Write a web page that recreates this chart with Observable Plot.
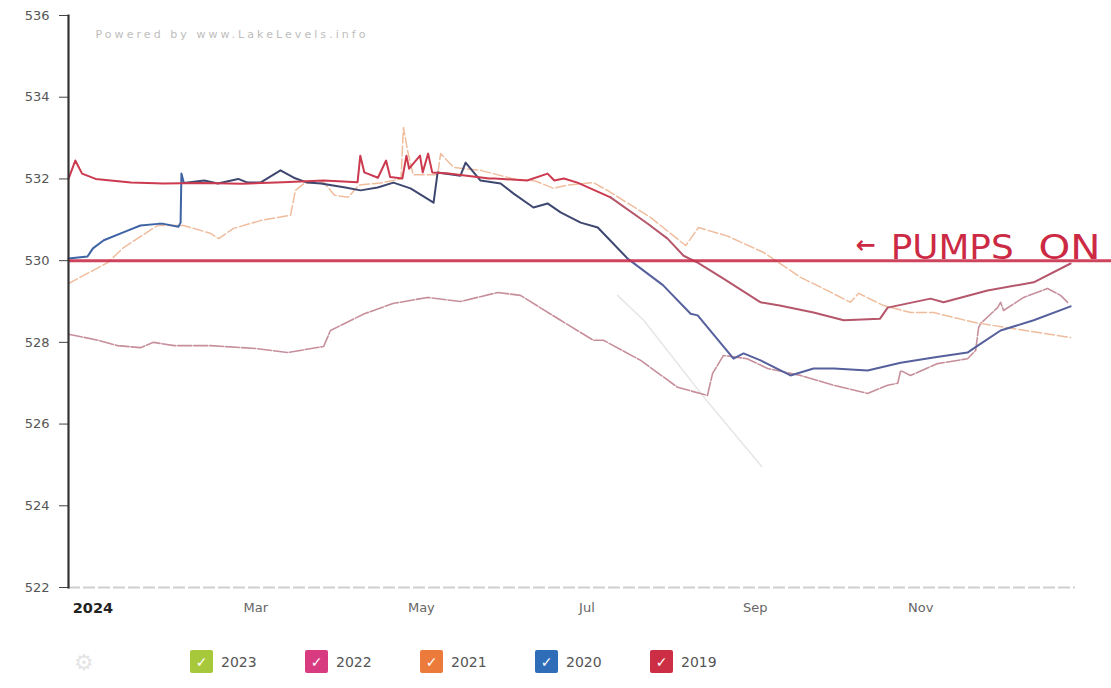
<!DOCTYPE html>
<html>
<head>
<meta charset="utf-8">
<script src="https://cdn.jsdelivr.net/npm/d3@7"></script>
<script src="https://cdn.jsdelivr.net/npm/@observablehq/plot@0.6"></script>
<style>
  body { margin: 0; background: #fff; font-family: "DejaVu Sans", sans-serif; }
  #wrap { position: relative; width: 1111px; }
  #legend { position: relative; height: 48px; }
  .item { position: absolute; top: 10px; display: flex; align-items: center; }
  .box { width: 23px; height: 23px; border-radius: 2px; color: #fff; font-size: 14px; font-weight: bold;
         display: flex; align-items: center; justify-content: center; }
  .lab { margin-left: 8px; font-size: 14px; color: #555; }
</style>
</head>
<body>
<div id="wrap"></div>
<script>
// ---- data (day of year 2024, Jan 1 = 0 ; lake level in ft) ----
const yTicks = [522, 524, 526, 528, 530, 532, 534, 536];
const monthDays = [0, 60, 121, 182, 244, 305];
const monthLabels = ["2024", "Mar", "May", "Jul", "Sep", "Nov"];

const y2019 = [[-9,532.0],[-6.5,532.45],[-4,532.13],[1,532.0],[14,531.91],[26,531.89],[40,531.9],[55,531.88],[70,531.92],[85,531.96],[97.5,531.92],[98.5,532.57],[100,532.16],[105,532.03],[108,532.45],[109.5,532.05],[114,532.01],[115.5,532.57],[116.5,532.25],[120.5,532.57],[121.5,532.16],[123.5,532.62],[125,532.16],[131,532.13],[146,532.01],[148,532.01],[160,531.96],[167.5,532.13],[170,531.96],[173.5,532.01],[178.5,531.91],[190.7,531.55],[204.3,530.91],[211.7,530.54],[217.6,530.12],[222.8,529.95],[232.3,529.56],[246,528.98],[253,528.9],[265.5,528.73],[276.6,528.54],[290,528.58],[292.8,528.85],[308.6,529.07],[313.4,528.98],[329.6,529.27],[346.6,529.47],[360.2,529.93]];

const y2020 = [[-9,530.05],[-2,530.1],[0,530.3],[4,530.5],[13,530.74],[17.5,530.86],[24,530.9],[26,530.9],[31.5,530.83],[32.3,530.93],[32.6,532.13],[33.5,531.9],[41,531.96],[46,531.89],[53.5,532.0],[57,531.91],[61.7,531.91],[69.1,532.21],[74,532.03],[79,531.91],[84,531.89],[93,531.79],[98.6,531.72],[104.9,531.79],[110.7,531.91],[117,531.77],[125.5,531.42],[127,532.16],[135.4,532.08],[137.3,532.4],[142.8,531.96],[150.2,531.89],[155,531.64],[162.3,531.3],[167.5,531.4],[172.3,531.18],[179.7,530.93],[186,530.81],[197,530.05],[210,529.4],[220.2,528.7],[222.8,528.66],[236,527.6],[239.7,527.73],[246,527.56],[257,527.19],[265.5,527.36],[273,527.36],[285.4,527.31],[297.6,527.5],[309.7,527.63],[322.2,527.75],[326,527.92],[334.4,528.29],[346.6,528.54],[360.2,528.88]];

const y2021 = [[-9,529.44],[5.4,529.95],[11.3,530.32],[23.8,530.86],[33.4,530.86],[43.3,530.67],[46.3,530.54],[51.8,530.79],[61.7,530.98],[72.8,531.11],[74.6,531.72],[78,531.9],[85,531.92],[89,531.6],[94,531.55],[98,531.85],[106,531.9],[113.5,532.0],[114.4,533.26],[115.9,532.7],[118,532.1],[127,532.1],[128.1,532.62],[132.9,532.28],[142.8,532.21],[155,532.0],[163,531.95],[169.7,531.77],[175,531.85],[184.4,531.91],[190,531.7],[205.4,531.06],[218.4,530.37],[223.1,530.81],[233.8,530.6],[247.1,530.2],[260.7,529.59],[268.1,529.35],[279.1,528.98],[282.1,529.2],[291.3,528.9],[301.2,528.73],[309.7,528.73],[324.5,528.49],[337,528.36],[360.2,528.12]];

const y2022 = [[-9,528.2],[2,528.05],[9.1,527.92],[17.5,527.87],[22.3,528.0],[30,527.92],[43.3,527.92],[60,527.85],[71.7,527.75],[85,527.9],[87.5,528.29],[100,528.7],[110.5,528.95],[123.3,529.1],[135.4,529.0],[149.1,529.22],[157.5,529.15],[172.3,528.54],[184.4,528.05],[188.1,528.05],[201.8,527.56],[215.4,526.9],[226.4,526.7],[228.3,527.24],[232.3,527.68],[241,527.6],[248.6,527.36],[260.7,527.19],[272.9,526.95],[285.4,526.75],[292.8,526.95],[296.5,527.0],[297.6,527.31],[301.2,527.19],[311.2,527.48],[322.2,527.6],[325.2,527.8],[326.3,528.36],[327,528.46],[333.3,528.85],[334.4,528.98],[335.5,528.78],[342.9,529.1],[351.7,529.32],[356.5,529.15],[359.1,528.98]];

const y2023 = [[193.3,529.15],[202.9,528.54],[226.4,526.55],[246.4,524.96]];

const legendYears = ["2023", "2022", "2021", "2020", "2019"];
const legendColors = ["#a8c83c", "#d93b80", "#ec7a3a", "#2f6db8", "#cc2f45"];

const pumpLevel = 530;
const pumpSpan = [-9, 376];
const noteArrow = [{label: "←", day: 281, level: 530.18}];
const noteWords = [
  {label: "PUMPS", day: 293.9, level: 530.05},
  {label: "ON", day: 348.4, level: 530.05}
];

const toRows = (arr) => arr.map(([d, v]) => ({d, v}));
const r2019 = toRows(y2019), r2020 = toRows(y2020);

const svg = Plot.plot({
  width: 1111,
  height: 640,
  marginLeft: 68,
  marginRight: 36,
  marginTop: 15,
  marginBottom: 53,
  style: {fontFamily: "DejaVu Sans, sans-serif", background: "#fff", overflow: "visible"},
  x: {domain: [-9, 362], axis: null},
  y: {domain: [522, 536], axis: null},
  marks: [
    Plot.ruleY([522], {stroke: "#cfcfcf", strokeWidth: 2, strokeDasharray: "12 3"}),
    Plot.axisY({ticks: yTicks, tickSize: 9, tickPadding: 10, fontSize: 13, stroke: "#444", fill: "#555", tickFormat: d => String(d)}),
    Plot.axisX({ticks: monthDays, tickSize: 0, tickPadding: 15, fontSize: 13, fill: "#666",
                tickFormat: d => monthLabels[monthDays.indexOf(d)]}),
    Plot.line(toRows(y2023), {x: "d", y: "v", stroke: "#e6e6e6", strokeWidth: 1.5}),
    Plot.line(toRows(y2022), {x: "d", y: "v", stroke: "#c68f9b", strokeWidth: 1.6, strokeDasharray: "14 2"}),
    Plot.line(toRows(y2021), {x: "d", y: "v", stroke: "#efbd9d", strokeWidth: 1.5, strokeDasharray: "10 3"}),
    Plot.line(r2020.filter(r => r.d <= 33.5), {x: "d", y: "v", stroke: "#3f64a4", strokeWidth: 2, strokeLinejoin: "round"}),
    Plot.line(r2020.filter(r => r.d >= 33.5 && r.d <= 197), {x: "d", y: "v", stroke: "#3e4770", strokeWidth: 2, strokeLinejoin: "round"}),
    Plot.line(r2020.filter(r => r.d >= 197), {x: "d", y: "v", stroke: "#55609c", strokeWidth: 2, strokeLinejoin: "round"}),
    Plot.line(r2019.filter(r => r.d <= 190.7), {x: "d", y: "v", stroke: "#cc3a4f", strokeWidth: 2, strokeLinejoin: "round"}),
    Plot.line(r2019.filter(r => r.d >= 190.7), {x: "d", y: "v", stroke: "#b5566b", strokeWidth: 2, strokeLinejoin: "round"}),
    Plot.ruleY([pumpLevel], {x1: pumpSpan[0], x2: pumpSpan[1], stroke: "#c8304a", strokeWidth: 3, strokeOpacity: 0.9}),
    Plot.text(noteArrow, {x: "day", y: "level", text: "label", fill: "#cc2a44", fontSize: 24, fontWeight: "bold",
                          textAnchor: "start", lineAnchor: "bottom"}),
    Plot.text(noteWords, {x: "day", y: "level", text: "label", fill: "#cc2a44", fontSize: 34,
                          textAnchor: "start", lineAnchor: "bottom"}),
    Plot.text(["Powered by www.LakeLevels.info"], {frameAnchor: "top-left", dx: 27, dy: 19, fill: "#bdbdbd", fontSize: 11, textAnchor: "start", lineAnchor: "middle"}),
    Plot.frame({anchor: "left", stroke: "#333", strokeWidth: 2.2})
  ]
});

// style tweaks on rendered text
d3.select(svg).selectAll("text").each(function() {
  const t = this.textContent;
  const s = d3.select(this);
  if (t === "2024") s.attr("font-weight", "bold").attr("fill", "#222").attr("font-size", 14.5);
  if (t === "PUMPS") s.attr("textLength", 123).attr("lengthAdjust", "spacingAndGlyphs");
  if (t === "ON") s.attr("textLength", 62).attr("lengthAdjust", "spacingAndGlyphs");
  if (t.startsWith("Powered")) s.attr("textLength", 270).attr("lengthAdjust", "spacing");
});

const wrap = document.getElementById("wrap");
wrap.appendChild(svg);

const legend = document.createElement("div");
legend.id = "legend";
const icon = document.createElement("div");
icon.className = "item";
icon.style.left = "74px";
icon.innerHTML = '<span style="font-size:22px;color:#e4e4e4">⚙</span>';
legend.appendChild(icon);
legendYears.forEach((yr, i) => {
  const it = document.createElement("div");
  it.className = "item";
  it.style.left = (190 + i * 115) + "px";
  it.innerHTML = `<div class="box" style="background:${legendColors[i]}">✓</div><span class="lab">${yr}</span>`;
  legend.appendChild(it);
});
wrap.appendChild(legend);
</script>
</body>
</html>
